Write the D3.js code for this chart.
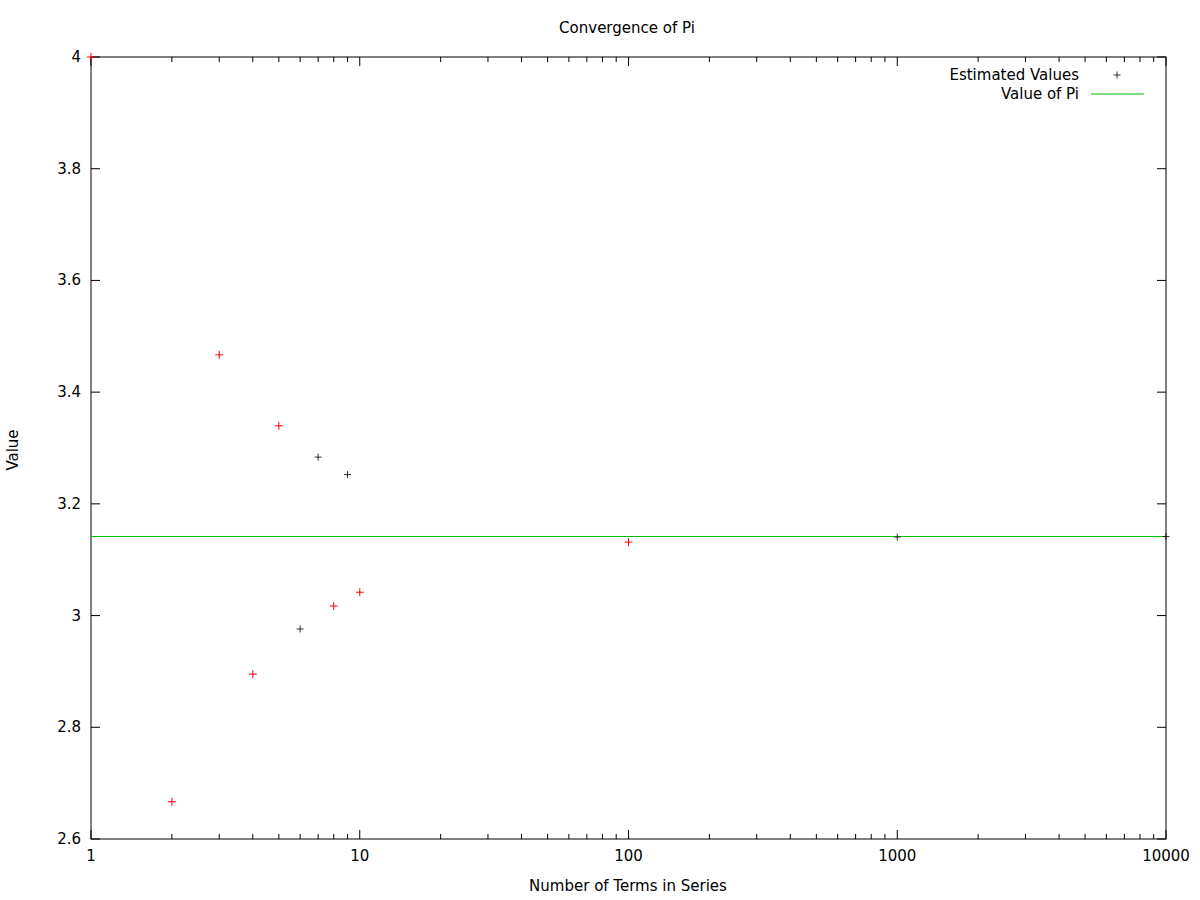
<!DOCTYPE html>
<html><head><meta charset="utf-8">
<script src="https://cdn.jsdelivr.net/npm/d3@7"></script>
<style>body{margin:0;background:#fff}text{font-family:"DejaVu Sans",sans-serif;font-size:15px;fill:#000}</style>
</head><body><svg id="c" width="1200" height="900"></svg>
<script>
const terms=[1,2,3,4,5,6,7,8,9,10,100,1000,10000];
const values=[4,2.6667,3.4667,2.8952,3.3397,2.9760,3.2837,3.0171,3.2524,3.0418,3.1316,3.1406,3.1415];
const pointColors=["red","red","red","red","red","black","black","red","black","red","red","black","black"];
const piValue=Math.PI;
const yTicks=[2.6,2.8,3,3.2,3.4,3.6,3.8,4];
const xTicks=[1,10,100,1000,10000];

const svg=d3.select("#c");
const L=91,R=1166,T=57,B=839;
const x=d3.scaleLog().domain([1,10000]).range([L,R]);
const y=d3.scaleLinear().domain([2.6,4]).range([B,T]);
const g=svg.append("g");
const minor=[];for(let d=1;d<10000;d*=10)for(let k=2;k<10;k++)minor.push(d*k);
const tk=(x1,y1,x2,y2)=>g.append("line").attr("x1",x1).attr("y1",y1).attr("x2",x2).attr("y2",y2).attr("stroke","#000").attr("stroke-width",1);
xTicks.forEach(v=>{const px=x(v);tk(px,B,px,B-9);tk(px,T,px,T+9);
 g.append("text").attr("x",px).attr("y",B+22).attr("text-anchor","middle").text(v);});
minor.forEach(v=>{const px=x(v);tk(px,B,px,B-5);tk(px,T,px,T+5);});
yTicks.forEach(v=>{const py=y(v);tk(L,py,L+9,py);tk(R,py,R-9,py);
 g.append("text").attr("x",L-10).attr("y",py+5).attr("text-anchor","end").text(+v.toFixed(1));});
g.append("rect").attr("x",L).attr("y",T).attr("width",R-L).attr("height",B-T).attr("fill","none").attr("stroke","#000");
g.append("line").attr("x1",L).attr("x2",R).attr("y1",y(piValue)).attr("y2",y(piValue)).attr("stroke","#00c000").attr("stroke-width",1);
const plus=(cx,cy,c,s)=>{g.append("path").attr("d",`M${cx-s},${cy}H${cx+s}M${cx},${cy-s}V${cy+s}`).attr("stroke",c).attr("stroke-width",c==="black"?0.8:1);};
terms.forEach((t,i)=>plus(x(t),y(values[i]),pointColors[i],pointColors[i]==="black"?3.5:4));
g.append("text").attr("x",1079).attr("y",80).attr("text-anchor","end").text("Estimated Values");
plus(1117,75,"black",3.5);
g.append("text").attr("x",1079).attr("y",99).attr("text-anchor","end").text("Value of Pi");
g.append("line").attr("x1",1091).attr("x2",1144).attr("y1",94).attr("y2",94).attr("stroke","#00c000");
g.append("text").attr("x",627).attr("y",33).attr("text-anchor","middle").text("Convergence of Pi");
g.append("text").attr("x",628).attr("y",891).attr("text-anchor","middle").text("Number of Terms in Series");
g.append("text").attr("transform","translate(18,450) rotate(-90)").attr("text-anchor","middle").text("Value");
</script></body></html>
